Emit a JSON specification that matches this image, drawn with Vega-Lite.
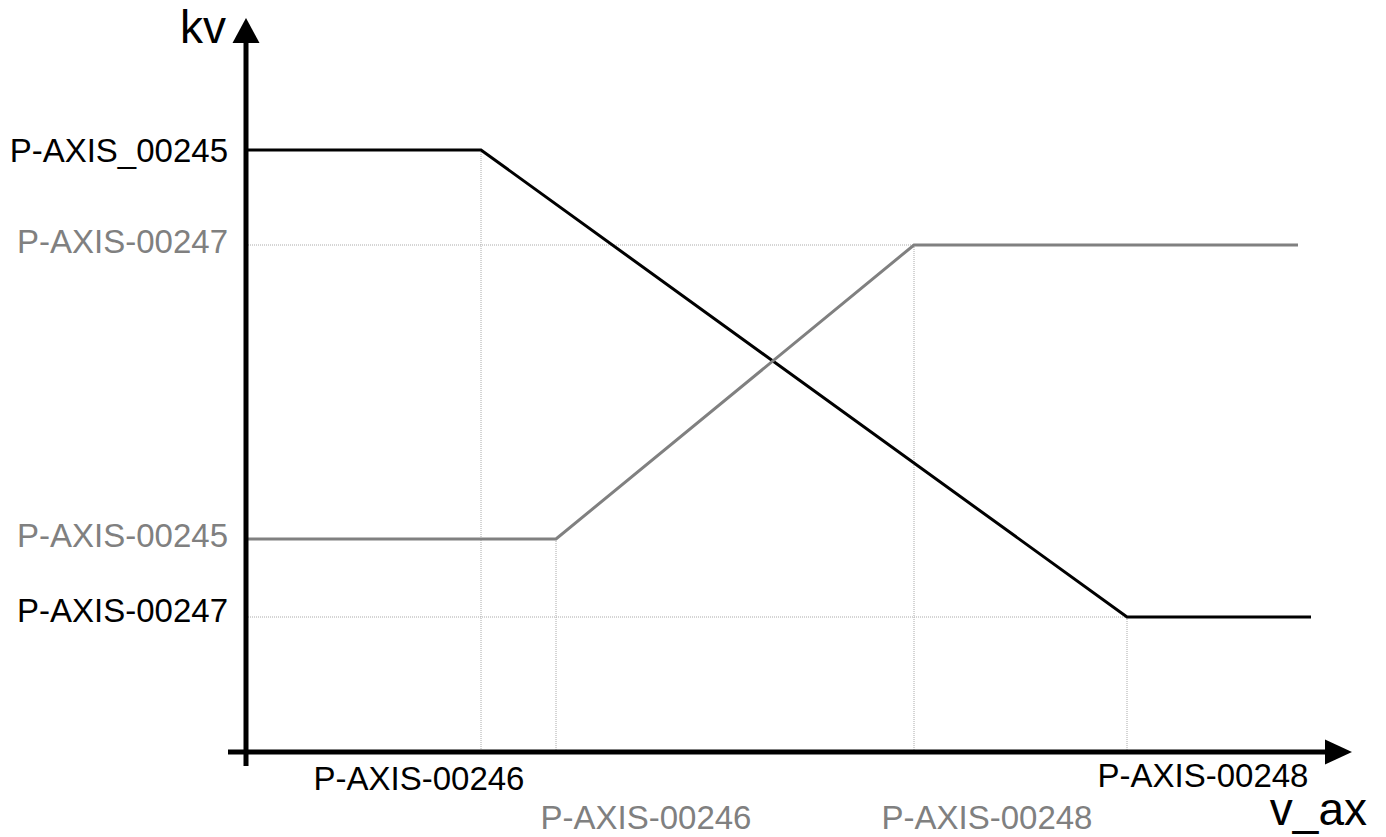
{
  "$schema": "https://vega.github.io/schema/vega-lite/v6.json",
  "width": 1386,
  "height": 837,
  "autosize": {"type": "none"},
  "padding": 0,
  "background": "white",
  "view": {"stroke": null},
  "config": {"font": "Liberation Sans"},
  "datasets": {
    "curves": [
      {"curve": "black", "x": 0.0, "y": 6.02},
      {"curve": "black", "x": 2.35, "y": 6.02},
      {"curve": "black", "x": 8.81, "y": 1.35},
      {"curve": "black", "x": 10.65, "y": 1.35},
      {"curve": "gray", "x": 0.0, "y": 2.13},
      {"curve": "gray", "x": 3.10, "y": 2.13},
      {"curve": "gray", "x": 6.68, "y": 5.07},
      {"curve": "gray", "x": 10.52, "y": 5.07}
    ],
    "guides": [
      {"x": 0, "y": 5.07, "x2": 6.68, "y2": 5.07},
      {"x": 0, "y": 1.35, "x2": 8.81, "y2": 1.35},
      {"x": 2.35, "y": 6.02, "x2": 2.35, "y2": 0},
      {"x": 3.10, "y": 2.13, "x2": 3.10, "y2": 0},
      {"x": 6.68, "y": 5.07, "x2": 6.68, "y2": 0},
      {"x": 8.81, "y": 1.35, "x2": 8.81, "y2": 0}
    ],
    "axes": [
      {"x": 0, "y": -0.14, "x2": 0, "y2": 7.1},
      {"x": -0.18, "y": 0, "x2": 10.9, "y2": 0}
    ],
    "yarrow": [{"x": 0, "y": 7.215}],
    "xarrow": [{"x": 10.925, "y": 0}],
    "ylabels": [
      {"label": "P-AXIS_00245", "curve": "black", "x": -0.18, "y": 5.90},
      {"label": "P-AXIS-00247", "curve": "gray", "x": -0.18, "y": 4.99},
      {"label": "P-AXIS-00245", "curve": "gray", "x": -0.18, "y": 2.05},
      {"label": "P-AXIS-00247", "curve": "black", "x": -0.18, "y": 1.30}
    ],
    "xlabels": [
      {"label": "P-AXIS-00246", "curve": "black", "x": 1.73, "y": -0.38},
      {"label": "P-AXIS-00246", "curve": "gray", "x": 4.00, "y": -0.77},
      {"label": "P-AXIS-00248", "curve": "gray", "x": 7.41, "y": -0.77},
      {"label": "P-AXIS-00248", "curve": "black", "x": 9.57, "y": -0.35}
    ],
    "titles": [
      {"label": "kv", "x": -0.20, "y": 7.09},
      {"label": "v_ax", "x": 11.21, "y": -0.73}
    ]
  },
  "layer": [
    {
      "data": {"name": "guides"},
      "mark": {"type": "rule", "color": "#aaaaaa", "strokeWidth": 1, "strokeDash": [1, 1]},
      "encoding": {
        "x": {"field": "x", "type": "quantitative", "scale": {"domain": [-2.46, 11.40], "nice": false, "zero": false}, "axis": null},
        "y": {"field": "y", "type": "quantitative", "scale": {"domain": [-0.85, 7.52], "nice": false, "zero": false}, "axis": null},
        "x2": {"field": "x2"},
        "y2": {"field": "y2"}
      }
    },
    {
      "data": {"name": "curves"},
      "mark": {"type": "line", "strokeWidth": 3, "strokeJoin": "miter"},
      "encoding": {
        "x": {"field": "x", "type": "quantitative"},
        "y": {"field": "y", "type": "quantitative"},
        "color": {"field": "curve", "type": "nominal", "scale": {"domain": ["black", "gray"], "range": ["#000000", "#808080"]}, "legend": null},
        "order": {"field": "x", "type": "quantitative"}
      }
    },
    {
      "data": {"name": "axes"},
      "mark": {"type": "rule", "color": "#000000", "strokeWidth": 5},
      "encoding": {
        "x": {"field": "x", "type": "quantitative"},
        "y": {"field": "y", "type": "quantitative"},
        "x2": {"field": "x2"},
        "y2": {"field": "y2"}
      }
    },
    {
      "data": {"name": "yarrow"},
      "mark": {"type": "point", "shape": "M0,-0.926L1,0.926L-1,0.926Z", "size": 729, "filled": true, "color": "#000000", "opacity": 1},
      "encoding": {
        "x": {"field": "x", "type": "quantitative"},
        "y": {"field": "y", "type": "quantitative"}
      }
    },
    {
      "data": {"name": "xarrow"},
      "mark": {"type": "point", "shape": "M-1,-0.926L1,0L-1,0.926Z", "size": 729, "filled": true, "color": "#000000", "opacity": 1},
      "encoding": {
        "x": {"field": "x", "type": "quantitative"},
        "y": {"field": "y", "type": "quantitative"}
      }
    },
    {
      "data": {"name": "ylabels"},
      "mark": {"type": "text", "align": "right", "baseline": "alphabetic", "fontSize": 33},
      "encoding": {
        "x": {"field": "x", "type": "quantitative"},
        "y": {"field": "y", "type": "quantitative"},
        "text": {"field": "label"},
        "color": {"field": "curve", "type": "nominal", "legend": null}
      }
    },
    {
      "data": {"name": "xlabels"},
      "mark": {"type": "text", "align": "center", "baseline": "alphabetic", "fontSize": 33},
      "encoding": {
        "x": {"field": "x", "type": "quantitative"},
        "y": {"field": "y", "type": "quantitative"},
        "text": {"field": "label"},
        "color": {"field": "curve", "type": "nominal", "legend": null}
      }
    },
    {
      "data": {"name": "titles"},
      "mark": {"type": "text", "align": "right", "baseline": "alphabetic", "fontSize": 46, "color": "#000000"},
      "encoding": {
        "x": {"field": "x", "type": "quantitative"},
        "y": {"field": "y", "type": "quantitative"},
        "text": {"field": "label"}
      }
    }
  ]
}
